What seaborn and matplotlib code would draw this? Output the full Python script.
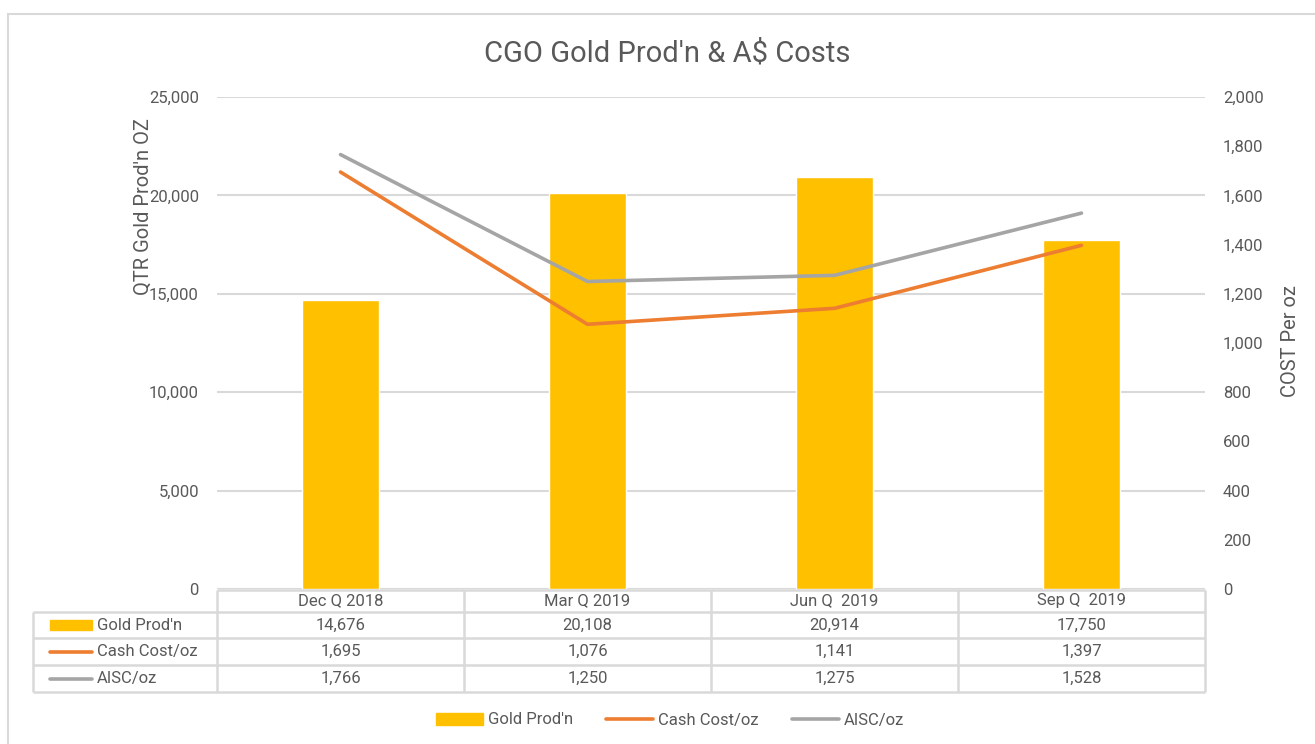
import numpy as np
import pandas as pd
import matplotlib.pyplot as plt
import seaborn as sns
from matplotlib.patches import Rectangle, Patch
from matplotlib.lines import Line2D

# ── data ──────────────────────────────────────────────
quarters = ["Dec Q 2018", "Mar Q 2019", "Jun Q  2019", "Sep Q  2019"]
gold_prod = [14676, 20108, 20914, 17750]
cash_cost = [1695, 1076, 1141, 1397]
aisc = [1766, 1250, 1275, 1528]
series_names = ["Gold Prod'n", "Cash Cost/oz", "AISC/oz"]

GOLD, ORANGE, GREY = "#FFC000", "#ED7D31", "#A5A5A5"
TXT, GRID = "#595959", "#D9D9D9"
W, H = 1315, 744

sns.set_theme(style="white")
plt.rcParams["font.family"] = ["Roboto", "DejaVu Sans"]

fig = plt.figure(figsize=(W / 100, H / 100), dpi=100)
ax = fig.add_axes([217 / W, 1 - 589 / H, 988 / W, 492 / H])

# bars (left axis)
df = pd.DataFrame({"quarter": quarters, "prod": gold_prod})
sns.barplot(data=df, x="quarter", y="prod", color=GOLD, saturation=1,
            width=0.31, ax=ax, zorder=2)
ax.set_ylim(0, 25000)
ax.set_yticks(np.arange(0, 25001, 5000))
ax.set_yticklabels([f"{v:,}" for v in range(0, 25001, 5000)])
ax.yaxis.grid(True, color=GRID, lw=1.5, zorder=0)
ax.set_axisbelow(True)
ax.set_xticks([])
ax.set_xlabel("")
ax.set_ylabel("")
ax.tick_params(axis="y", length=0, pad=13, labelsize=12, labelcolor=TXT)

# lines (right axis)
ax2 = ax.twinx()
xpos = np.arange(len(quarters))
sns.lineplot(x=xpos, y=cash_cost, ax=ax2, color=ORANGE, lw=2.6,
             solid_capstyle="round")
sns.lineplot(x=xpos, y=aisc, ax=ax2, color=GREY, lw=2.6,
             solid_capstyle="round")
ax2.set_ylim(0, 2000)
ax2.set_yticks(np.arange(0, 2001, 200))
ax2.set_yticklabels([f"{v:,}" for v in range(0, 2001, 200)])
ax2.tick_params(axis="y", length=0, pad=13, labelsize=12, labelcolor=TXT)
ax2.grid(False)
ax.set_xlim(-0.5, 3.5)
for a in (ax, ax2):
    for s in a.spines.values():
        s.set_visible(False)

# axis titles + chart title
fig.text(143 / W, 1 - 207 / H, "QTR Gold Prod'n OZ", rotation=90,
         ha="center", va="center", fontsize=14.5, color=TXT)
fig.text(1290 / W, 1 - 341 / H, "COST Per oz", rotation=90,
         ha="center", va="center", fontsize=14.5, color=TXT)
fig.text(667 / W, 1 - 53 / H, "CGO Gold Prod'n & A$ Costs",
         ha="center", va="center", fontsize=21, color=TXT)

# ── data table under the plot ─────────────────────────
tab = fig.add_axes([33 / W, 1 - 692 / H, (1205 - 33) / W, 102 / H])
left = -0.5 - 184 / 247
tab.set_xlim(left, 3.5)
tab.set_ylim(102, 0)
tab.axis("off")
rows_y = [0, 22, 48, 75, 102]
lkw = dict(color=GRID, lw=1.8, clip_on=False, solid_capstyle="butt")
tab.plot([-0.5, 3.5], [0, 0], **lkw)
for yy in rows_y[1:]:
    tab.plot([left, 3.5], [yy, yy], **lkw)
for xx in np.arange(-0.5, 3.6, 1):
    tab.plot([xx, xx], [0, 102], **lkw)
tab.plot([left, left], [22, 102], **lkw)

for i, q in enumerate(quarters):
    tab.text(i, 11, q, ha="center", va="center", fontsize=12, color=TXT)
table_rows = [gold_prod, cash_cost, aisc]
colors = [GOLD, ORANGE, GREY]
px = lambda p: left + (p - 33) / 247
for r, (vals, name, c) in enumerate(zip(table_rows, series_names, colors)):
    yc = (rows_y[r + 1] + rows_y[r + 2]) / 2
    for i, v in enumerate(vals):
        tab.text(i, yc, f"{v:,}", ha="center", va="center", fontsize=12, color=TXT)
    if r == 0:
        tab.add_patch(Rectangle((px(50), yc - 5), px(92) - px(50), 10,
                                color=c, clip_on=False))
    else:
        tab.plot([px(50), px(92)], [yc, yc], color=c, lw=2.6,
                 solid_capstyle="round", clip_on=False)
    tab.text(px(97), yc, name, ha="left", va="center", fontsize=12, color=TXT)

# ── legend ────────────────────────────────────────────
handles = [Patch(color=GOLD), Line2D([], [], color=ORANGE, lw=2.6),
           Line2D([], [], color=GREY, lw=2.6)]
leg = fig.legend(handles, series_names, loc="center",
                 bbox_to_anchor=(670 / W, 1 - 720 / H), ncol=3, frameon=False,
                 fontsize=12, handlelength=2.8, handletextpad=0.3,
                 columnspacing=2.0)
for t in leg.get_texts():
    t.set_color(TXT)

# outer chart border
fig.patches.append(Rectangle((8 / W, -0.05), 1.2, 1 - 14 / H + 0.05,
                             transform=fig.transFigure, fill=False,
                             ec=GRID, lw=1.5))

fig.savefig("out.png", dpi=100)
